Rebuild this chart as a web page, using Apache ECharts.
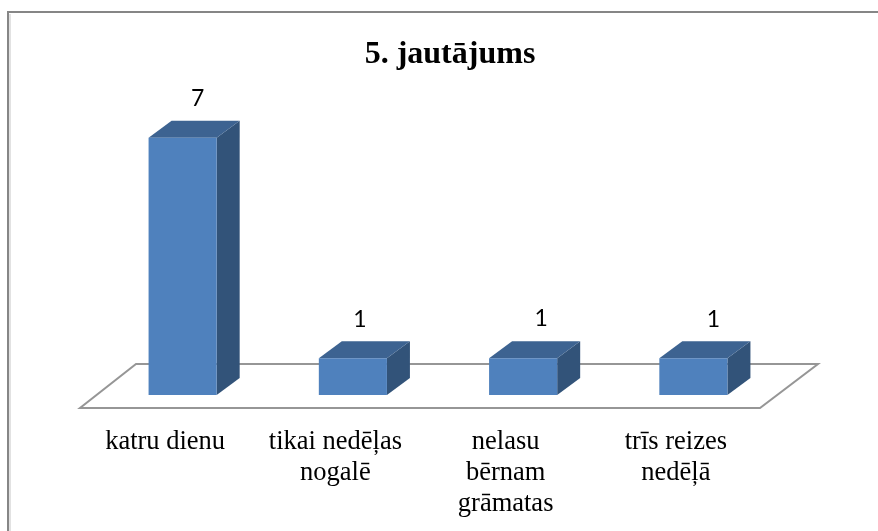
<!DOCTYPE html>
<html>
<head>
<meta charset="utf-8">
<title>5. jautājums</title>
<script src="https://cdn.jsdelivr.net/npm/echarts@6/dist/echarts.min.js"></script>
<style>
    html, body { margin: 0; padding: 0; background: #fff; }
    #chart { width: 878px; height: 531px; }
</style>
</head>
<body>
<div id="chart"></div>
<script>
const titleText = '5. jautājums';
const categories = ['katru dienu', 'tikai nedēļas\nnogalē', 'nelasu\nbērnam\ngrāmatas', 'trīs reizes\nnedēļā'];
const answers = [7, 1, 1, 1];

// the value labels were moved by hand in the original, each one sits a bit differently
const labelShift = [[15, 0], [7, 0], [18, -1], [20, 0]];

const depthX = 23;
const depthY = 17;
const barOffset = 17.5; // bars stand towards the back of the floor, not over the axis labels

function drawFloor(params, api) {
    let c = params.coordSys;
    let front = c.y + c.height + 13;
    let back = front - 44;
    return {
        type: 'polygon',
        shape: {
            points: [
                [c.x, front],
                [c.x + 680, front],
                [c.x + 738, back],
                [c.x + 56, back]
            ]
        },
        style: { fill: '#fff', stroke: '#969696', lineWidth: 2 }
    };
}

function drawBar(params, api) {
    let i = params.dataIndex;
    let top = api.coord([i, api.value(1)]);
    let base = api.coord([i, 0]);
    let w = api.size([1, 0])[0] * 0.4;
    let l = top[0] + barOffset - w / 2;
    let r = l + w;
    let t = top[1];
    let b = base[1];
    return {
        type: 'group',
        children: [
            {
                type: 'polygon',
                shape: { points: [[r, t], [r + depthX, t - depthY], [r + depthX, b - depthY], [r, b]] },
                style: { fill: '#325379' }
            },
            {
                type: 'polygon',
                shape: { points: [[l, t], [l + depthX, t - depthY], [r + depthX, t - depthY], [r, t]] },
                style: { fill: '#3d6391' }
            },
            {
                type: 'rect',
                shape: { x: l, y: t, width: w, height: b - t },
                style: { fill: '#4f81bd' }
            },
            {
                type: 'text',
                x: l + w / 2 + labelShift[i][0],
                y: t - depthY - 22 + labelShift[i][1],
                style: {
                    text: String(api.value(1)),
                    fontFamily: 'Lato',
                    fontSize: 23,
                    fill: '#000',
                    align: 'center',
                    verticalAlign: 'middle'
                }
            }
        ]
    };
}

let chart = echarts.init(document.getElementById('chart'));
chart.setOption({
    animation: false,
    backgroundColor: '#fff',
    title: {
        text: titleText,
        left: 445,
        top: 34,
        textAlign: 'center',
        textStyle: {
            fontFamily: 'Liberation Serif',
            fontSize: 32,
            fontWeight: 'bold',
            color: '#000'
        }
    },
    // outer chart frame, only top and left edge are visible in the crop
    graphic: [
        { type: 'line', shape: { x1: 10, y1: 14, x2: 10, y2: 531 }, style: { stroke: '#e2e2e2', lineWidth: 2 } },
        { type: 'line', shape: { x1: 8, y1: 12, x2: 878, y2: 12 }, style: { stroke: '#868686', lineWidth: 2 } },
        { type: 'line', shape: { x1: 8, y1: 11, x2: 8, y2: 531 }, style: { stroke: '#868686', lineWidth: 2 } }
    ],
    grid: {
        left: 80,
        right: 117,
        top: 101,
        bottom: 136
    },
    xAxis: {
        type: 'category',
        data: categories,
        axisLine: { show: false },
        axisTick: { show: false },
        axisLabel: {
            interval: 0,
            margin: 32,
            fontFamily: 'Liberation Serif',
            fontSize: 26.5,
            lineHeight: 31,
            color: '#000'
        }
    },
    yAxis: {
        type: 'value',
        min: 0,
        max: 8,
        show: false
    },
    series: [
        {
            type: 'custom',
            renderItem: drawFloor,
            data: [[0, 0]],
            z: 1,
            silent: true
        },
        {
            type: 'custom',
            renderItem: drawBar,
            encode: { x: 0, y: 1 },
            data: answers.map((v, i) => [i, v]),
            z: 2
        }
    ]
});
</script>
</body>
</html>
